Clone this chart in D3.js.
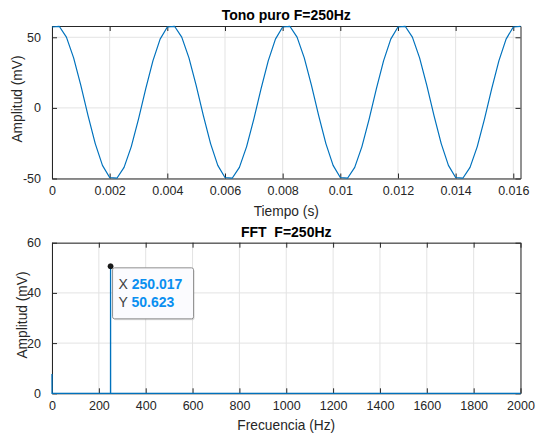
<!DOCTYPE html>
<html>
<head>
<meta charset="utf-8">
<script src="https://cdn.jsdelivr.net/npm/d3@7/dist/d3.min.js"></script>
<style>
  html, body { margin: 0; padding: 0; background: #ffffff; }
  svg { display: block; font-family: "Liberation Sans", Arial, Helvetica, sans-serif; }
</style>
</head>
<body>
<svg id="fig" width="536" height="437">
  <defs id="defs"></defs>
</svg>
<script>
// Señal muestreada: tono puro de 250 Hz (Fs = 4000 Hz)
const periodoMuestreo = 0.00025;
const amplitudSenal = [
  57.3, 57.8, 50.1, 35.4, 15.9, -5.4, -25.3, -40.7, -49.3, -49.8, -42.1, -27.4, -7.9, 13.4, 33.3, 48.7,
  57.3, 57.8, 50.1, 35.4, 15.9, -5.4, -25.3, -40.7, -49.3, -49.8, -42.1, -27.4, -7.9, 13.4, 33.3, 48.7,
  57.3, 57.8, 50.1, 35.4, 15.9, -5.4, -25.3, -40.7, -49.3, -49.8, -42.1, -27.4, -7.9, 13.4, 33.3, 48.7,
  57.3, 57.8, 50.1, 35.4, 15.9, -5.4, -25.3, -40.7, -49.3, -49.8, -42.1, -27.4, -7.9, 13.4, 33.3, 48.7,
  57.3, 57.8
];
const ticksTiempo = [0, 0.002, 0.004, 0.006, 0.008, 0.01, 0.012, 0.014, 0.016];
const ticksAmplitud = [-50, 0, 50];

// Espectro de amplitud (FFT de un solo lado)
const frecuencias = [0, 0.25, 249.77, 250.017, 250.27, 2000];
const espectro = [7.7, 0, 0, 50.623, 0, 0];
const ticksFrecuencia = [0, 200, 400, 600, 800, 1000, 1200, 1400, 1600, 1800, 2000];
const ticksEspectro = [0, 20, 40, 60];
const indicePico = 3;

const AXIS = "#262626";
const GRID = "#e3e3e3";
const LINE = "#0072BD";
const TICK_LEN = 5;

const svg = d3.select("#fig");
const defs = d3.select("#defs");

function panel(opts) {
  const { left, right, top, bottom, x, y, xTicks, yTicks, xFmt, yFmt, title, xLabel, yLabelX, id } = opts;
  const g = svg.append("g");

  defs.append("clipPath").attr("id", id)
    .append("rect").attr("x", left - 1).attr("y", top - 1)
    .attr("width", right - left + 2).attr("height", bottom - top + 2);

  // rejilla
  g.append("g").selectAll("line").data(xTicks).join("line")
    .attr("x1", d => x(d)).attr("x2", d => x(d))
    .attr("y1", top).attr("y2", bottom)
    .attr("stroke", GRID).attr("stroke-width", 1);
  g.append("g").selectAll("line").data(yTicks).join("line")
    .attr("x1", left).attr("x2", right)
    .attr("y1", d => y(d)).attr("y2", d => y(d))
    .attr("stroke", GRID).attr("stroke-width", 1);

  // ejes con marcas hacia dentro
  const axB = d3.axisBottom(x).tickValues(xTicks).tickSizeInner(-TICK_LEN).tickSizeOuter(0).tickPadding(8).tickFormat(xFmt);
  const axT = d3.axisTop(x).tickValues(xTicks).tickSizeInner(-TICK_LEN).tickSizeOuter(0).tickFormat("");
  const axL = d3.axisLeft(y).tickValues(yTicks).tickSizeInner(-TICK_LEN).tickSizeOuter(0).tickPadding(11).tickFormat(yFmt);
  const axR = d3.axisRight(y).tickValues(yTicks).tickSizeInner(-TICK_LEN).tickSizeOuter(0).tickFormat("");

  const gb = g.append("g").attr("transform", `translate(0,${bottom})`).call(axB);
  const gt = g.append("g").attr("transform", `translate(0,${top})`).call(axT);
  const gl = g.append("g").attr("transform", `translate(${left},0)`).call(axL);
  const gr = g.append("g").attr("transform", `translate(${right},0)`).call(axR);
  [gb, gt, gl, gr].forEach(a => {
    a.select(".domain").attr("stroke", AXIS).attr("stroke-width", 1);
    a.selectAll(".tick line").attr("stroke", AXIS).attr("stroke-width", 1);
    a.selectAll("text").attr("fill", AXIS).attr("font-size", "12.5px")
      .attr("font-family", "'Liberation Sans', Arial, sans-serif");
  });
  gb.selectAll("text").attr("dy", "0.71em");

  g.append("text")
    .attr("x", (left + right) / 2).attr("y", top - 6)
    .attr("text-anchor", "middle")
    .attr("font-size", "14px").attr("font-weight", "bold")
    .attr("fill", "#000").style("white-space", "pre")
    .text(title);

  g.append("text")
    .attr("x", (left + right) / 2).attr("y", bottom + 37)
    .attr("text-anchor", "middle")
    .attr("font-size", "13.75px").attr("fill", AXIS)
    .text(xLabel);

  g.append("text")
    .attr("transform", `translate(${yLabelX},${Math.round((top + bottom) / 2 - 3)}) rotate(-90)`)
    .attr("text-anchor", "middle")
    .attr("font-size", "13.75px").attr("fill", AXIS)
    .text("Amplitud (mV)");

  return g;
}

// ---------- Panel superior: señal en el tiempo ----------
const xT = d3.scaleLinear().domain([0, (amplitudSenal.length - 1) * periodoMuestreo]).range([52, 520.5]);
const yT = d3.scaleLinear().domain([-50, 58]).range([178.5, 26]);
const gTop = panel({
  id: "clipTop", left: 52, right: 520.5, top: 26, bottom: 178.5,
  x: xT, y: yT, xTicks: ticksTiempo, yTicks: ticksAmplitud,
  xFmt: d => d3.format("~g")(d), yFmt: d => String(d),
  title: "Tono puro F=250Hz", xLabel: "Tiempo (s)", yLabelX: 22
});
gTop.append("path")
  .datum(amplitudSenal)
  .attr("clip-path", "url(#clipTop)")
  .attr("fill", "none").attr("stroke", LINE).attr("stroke-width", 1.2)
  .attr("stroke-linejoin", "round")
  .attr("d", d3.line().x((d, i) => xT(i * periodoMuestreo)).y(d => yT(d)));

// ---------- Panel inferior: espectro ----------
const xF = d3.scaleLinear().domain([0, 2000]).range([52, 520.5]);
const yF = d3.scaleLinear().domain([0, 60]).range([393.3, 242.7]);
const gBot = panel({
  id: "clipBot", left: 52, right: 520.5, top: 242.7, bottom: 393.3,
  x: xF, y: yF, xTicks: ticksFrecuencia, yTicks: ticksEspectro,
  xFmt: d => String(d), yFmt: d => String(d),
  title: "FFT  F=250Hz", xLabel: "Frecuencia (Hz)", yLabelX: 27
});
gBot.append("path")
  .datum(frecuencias.map((f, i) => [f, espectro[i]]))
  .attr("clip-path", "url(#clipBot)")
  .attr("fill", "none").attr("stroke", LINE).attr("stroke-width", 1.3)
  .attr("d", d3.line().x(d => xF(d[0])).y(d => yF(d[1])));

// ---------- Cursor de datos sobre el pico ----------
const px = xF(frecuencias[indicePico]);
const py = yF(espectro[indicePico]);
const tip = gBot.append("g").attr("transform", `translate(${px + 2},${py + 1.6})`);
tip.append("rect")
  .attr("x", 1).attr("y", 1.5).attr("width", 81).attr("height", 51).attr("rx", 2)
  .attr("fill", "#000").attr("opacity", 0.12);
tip.append("rect")
  .attr("x", 0).attr("y", 0).attr("width", 81).attr("height", 51).attr("rx", 2)
  .attr("fill", "#fbfbfe").attr("stroke", "#8f8f8f").attr("stroke-width", 1);
const filas = [["X", frecuencias[indicePico]], ["Y", espectro[indicePico]]];
filas.forEach(([k, v], i) => {
  const t = tip.append("text").attr("x", 6).attr("y", 21 + i * 18).attr("font-size", "14px");
  t.append("tspan").attr("fill", "#404040").text(k + " ");
  t.append("tspan").attr("fill", "#0a8ff0").attr("font-weight", "bold").text(d3.format(".3f")(v));
});
gBot.append("circle").attr("cx", px).attr("cy", py).attr("r", 2.6)
  .attr("fill", "#1a1a1a").attr("stroke", "#000").attr("stroke-width", 0.6);
</script>
</body>
</html>
